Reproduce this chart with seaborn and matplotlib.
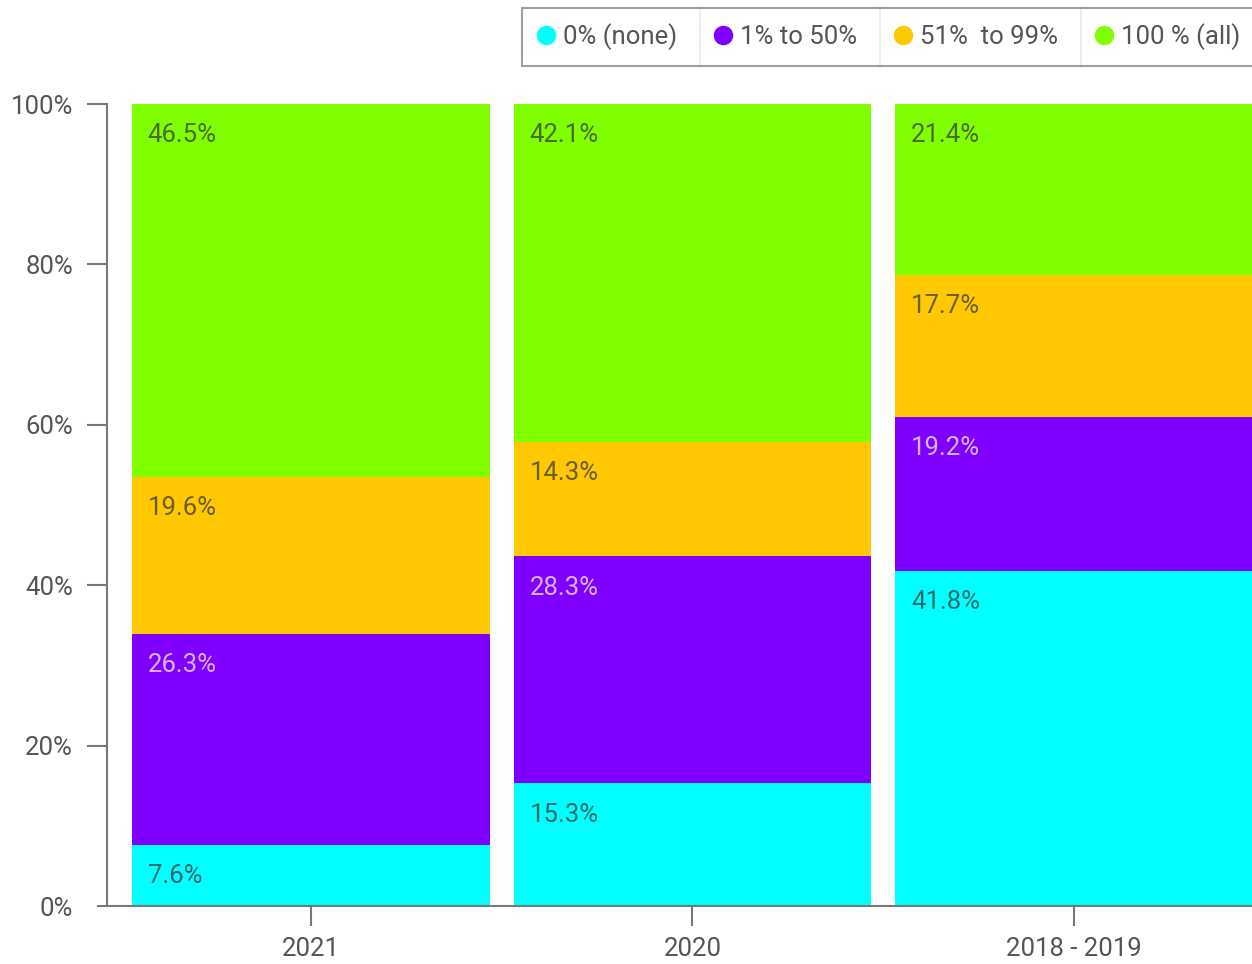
import numpy as np
import matplotlib
matplotlib.use("Agg")
import matplotlib.pyplot as plt
from matplotlib.lines import Line2D
import seaborn as sns

# ---------------------------------------------------------------
# DATA
# ---------------------------------------------------------------
years = ["2021", "2020", "2018 - 2019"]
series = ["0% (none)", "1% to 50%", "51%  to 99%", "100 % (all)"]
none_pct = [7.6, 15.3, 41.8]
some_pct = [26.3, 28.3, 19.2]
most_pct = [19.6, 14.3, 17.7]
all_pct = [46.5, 42.1, 21.4]

colors = ["#00FFFF", "#7F00FF", "#FFC800", "#80FF00"]
label_colors = ["#3a3a3a", "#f2f2f2", "#3a3a3a", "#3a3a3a"]

# ---------------------------------------------------------------
# STYLE
# ---------------------------------------------------------------
sns.set_style("white")
plt.rcParams["font.family"] = ["Roboto", "DejaVu Sans"]
FS = 18.5

fig = plt.figure(figsize=(12.52, 9.64), dpi=100)
ax = fig.add_axes([98 / 1252, 58 / 964, 1154 / 1252, 802 / 964])

values = np.array([none_pct, some_pct, most_pct, all_pct])
cum = np.cumsum(values, axis=0)

# draw from the top layer down so each shorter bar sits on top
for i in range(len(series) - 1, -1, -1):
    sns.barplot(x=years, y=cum[i], color=colors[i], saturation=1,
                width=0.937, ax=ax, linewidth=0)

# segment labels
for i in range(len(series)):
    for j in range(len(years)):
        top = cum[i][j]
        ax.text(j - 0.427, min(top, 100) - 3.9, f"{values[i][j]:.1f}%",
                ha="left", va="center", fontsize=FS,
                color=label_colors[i], alpha=0.75)

# ---------------------------------------------------------------
# AXES
# ---------------------------------------------------------------
ax.set_xlim(-0.5576, 2.466)
ax.set_ylim(0, 100)
ax.set_yticks([0, 20, 40, 60, 80, 100])
ax.set_yticklabels([f"{t}%" for t in [0, 20, 40, 60, 80, 100]])
ax.set_xlabel("")
ax.set_ylabel("")

for s in ["top", "right"]:
    ax.spines[s].set_visible(False)
ax.spines["left"].set_position(("axes", 9 / 1154))
for s in ["left", "bottom"]:
    ax.spines[s].set_color("#777777")
    ax.spines[s].set_linewidth(1.5)

ax.tick_params(axis="both", left=True, bottom=True, colors="#777777",
               labelcolor="#555555", labelsize=FS, length=14.4, width=1.5,
               direction="out")
ax.tick_params(axis="y", pad=10)
ax.tick_params(axis="x", pad=8)
ax.yaxis.get_major_ticks()[0].tick1line.set_visible(False)

# ---------------------------------------------------------------
# LEGEND
# ---------------------------------------------------------------
handles = [Line2D([], [], marker="o", linestyle="", markersize=13,
                  markerfacecolor=c, markeredgecolor=c) for c in colors]
leg = fig.legend(handles, series, loc="upper right", ncol=4,
                 bbox_to_anchor=(1.003, 1 - 8 / 964),
                 bbox_transform=fig.transFigure, frameon=True,
                 fancybox=False, fontsize=FS, handlelength=0.7,
                 handletextpad=0.3, columnspacing=1.45, borderpad=0.6,
                 borderaxespad=0, labelcolor="#555555")
leg.get_frame().set_edgecolor("#888888")
leg.get_frame().set_linewidth(1.5)

# separators between legend entries
fig.canvas.draw()
renderer = fig.canvas.get_renderer()
frame_bb = leg.get_frame().get_window_extent(renderer)
texts = leg.get_texts()
for k in range(1, len(texts)):
    prev_right = texts[k - 1].get_window_extent(renderer).x1
    next_left = texts[k].get_window_extent(renderer).x0 - 0.7 * FS * 100 / 72 - 0.3 * FS * 100 / 72
    xm = (prev_right + next_left) / 2 / fig.bbox.width + 4 / fig.bbox.width
    fig.add_artist(Line2D([xm, xm], [frame_bb.y0 / fig.bbox.height, frame_bb.y1 / fig.bbox.height],
                          color="#999999", linewidth=1.3, transform=fig.transFigure))

plt.savefig("out.png", dpi=100)
